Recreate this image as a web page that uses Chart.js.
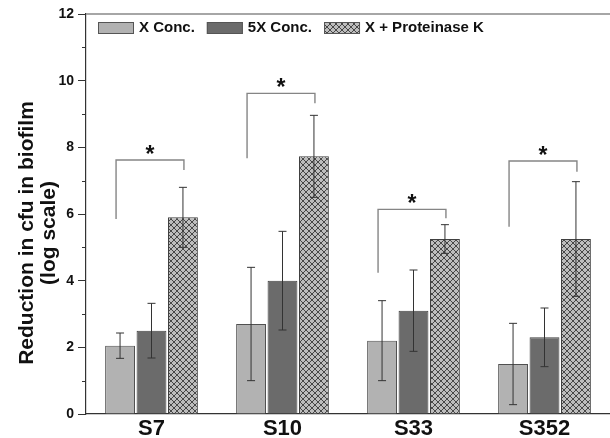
<!DOCTYPE html>
<html lang="en">
<head>
<meta charset="UTF-8">
<title>Reduction in cfu in biofilm</title>
<script src="https://cdn.jsdelivr.net/npm/chart.js"></script>
<style>
  body { margin: 0; background: #fff; }
</style>
</head>
<body>
<canvas id="chart" width="610" height="438"></canvas>
<script>
// data
const strains = ['S7', 'S10', 'S33', 'S352'];
const seriesNames = ['X Conc.', '5X Conc.', 'X + Proteinase K'];
const xConc = [2.05, 2.7, 2.2, 1.5];
const xConcErr = [0.38, 1.7, 1.2, 1.22];
const fiveXConc = [2.5, 4.0, 3.1, 2.3];
const fiveXConcErr = [0.82, 1.48, 1.22, 0.88];
const proteinaseK = [5.9, 7.73, 5.25, 5.25];
const proteinaseKErr = [0.9, 1.23, 0.43, 1.72];
const yTicks = [0, 2, 4, 6, 8, 10, 12];
// significance brackets (X Conc. vs X + Proteinase K)
const bracketTop = [7.62, 9.62, 6.14, 7.59];
const bracketLeftEnd = [5.85, 7.67, 4.24, 5.62];
const bracketRightEnd = [7.32, 9.32, 5.87, 7.27];

const FONT = 'Arial, "Liberation Sans", sans-serif';

// cross-hatch fill for the proteinase K bars
function hatch() {
    let c = document.createElement('canvas');
    c.width = 6; c.height = 6;
    let g = c.getContext('2d');
    g.fillStyle = '#bdbdbd';
    g.fillRect(0, 0, 6, 6);
    g.strokeStyle = '#474747';
    g.lineWidth = 1;
    g.beginPath();
    g.moveTo(0, 0); g.lineTo(6, 6);
    g.moveTo(6, 0); g.lineTo(0, 6);
    g.stroke();
    return g.createPattern(c, 'repeat');
}

const errors = [xConcErr, fiveXConcErr, proteinaseKErr];

const extras = {
    id: 'extras',
    afterDatasetsDraw(chart) {
        let ctx = chart.ctx;
        let y = chart.scales.y;
        let area = chart.chartArea;
        ctx.save();

        // error bars
        ctx.strokeStyle = '#333';
        ctx.lineWidth = 1;
        chart.data.datasets.forEach((ds, d) => {
            let meta = chart.getDatasetMeta(d);
            meta.data.forEach((bar, i) => {
                let hi = y.getPixelForValue(ds.data[i] + errors[d][i]);
                let lo = y.getPixelForValue(ds.data[i] - errors[d][i]);
                ctx.beginPath();
                ctx.moveTo(bar.x, hi); ctx.lineTo(bar.x, lo);
                ctx.moveTo(bar.x - 4, hi); ctx.lineTo(bar.x + 4, hi);
                ctx.moveTo(bar.x - 4, lo); ctx.lineTo(bar.x + 4, lo);
                ctx.stroke();
            });
        });

        // brackets + stars
        let first = chart.getDatasetMeta(0).data;
        let last = chart.getDatasetMeta(2).data;
        strains.forEach((s, i) => {
            let x1 = first[i].x - 4;
            let x2 = last[i].x + 1;
            let top = y.getPixelForValue(bracketTop[i]);
            ctx.strokeStyle = '#858585';
            ctx.lineWidth = 1.4;
            ctx.beginPath();
            ctx.moveTo(x1, y.getPixelForValue(bracketLeftEnd[i]));
            ctx.lineTo(x1, top);
            ctx.lineTo(x2, top);
            ctx.lineTo(x2, y.getPixelForValue(bracketRightEnd[i]));
            ctx.stroke();
            ctx.fillStyle = '#111';
            ctx.font = 'bold 23px ' + FONT;
            ctx.textAlign = 'center';
            ctx.textBaseline = 'alphabetic';
            ctx.fillText('*', (x1 + x2) / 2, top + 2);
        });

        // minor ticks on the y axis
        ctx.strokeStyle = '#333';
        ctx.lineWidth = 1;
        for (let v = 1; v < 12; v += 2) {
            let py = Math.round(y.getPixelForValue(v)) + 0.5;
            ctx.beginPath();
            ctx.moveTo(area.left - 4, py); ctx.lineTo(area.left, py);
            ctx.stroke();
        }

        // top frame line
        ctx.strokeStyle = '#888';
        ctx.lineWidth = 1.5;
        ctx.beginPath();
        ctx.moveTo(area.left, area.top); ctx.lineTo(area.right, area.top);
        ctx.stroke();

        // legend inside the plot
        ctx.font = 'bold 15px ' + FONT;
        ctx.textAlign = 'left';
        ctx.textBaseline = 'middle';
        let lx = area.left + 12;
        let ly = area.top + 14;
        chart.data.datasets.forEach(ds => {
            ctx.fillStyle = ds.backgroundColor;
            ctx.fillRect(lx, ly - 6, 36, 12);
            ctx.strokeStyle = '#555';
            ctx.lineWidth = 1;
            ctx.strokeRect(lx + 0.5, ly - 5.5, 35, 11);
            ctx.fillStyle = '#111';
            ctx.fillText(ds.label, lx + 41, ly);
            lx += 41 + ctx.measureText(ds.label).width + 12;
        });

        // y axis title, two lines
        ctx.save();
        ctx.translate(27, (area.top + area.bottom) / 2 + 19);
        ctx.rotate(-Math.PI / 2);
        ctx.font = 'bold 21px ' + FONT;
        ctx.textAlign = 'center';
        ctx.textBaseline = 'middle';
        ctx.fillStyle = '#111';
        ctx.fillText('Reduction in cfu in biofilm', 0, 0);
        ctx.fillText('(log scale)', 0, 22);
        ctx.restore();

        ctx.restore();
    }
};

const pattern = hatch();

new Chart(document.getElementById('chart'), {
    type: 'bar',
    data: {
        labels: strains,
        datasets: [
            { label: seriesNames[0], data: xConc, backgroundColor: '#b2b2b2', borderColor: '#505050', borderWidth: 1 },
            { label: seriesNames[1], data: fiveXConc, backgroundColor: '#6b6b6b', borderColor: '#404040', borderWidth: 1 },
            { label: seriesNames[2], data: proteinaseK, backgroundColor: pattern, borderColor: '#404040', borderWidth: 1 }
        ]
    },
    options: {
        responsive: false,
        animation: false,
        layout: { padding: { top: 14, right: 0, left: 0, bottom: 0 } },
        categoryPercentage: 0.72,
        barPercentage: 0.95,
        plugins: {
            legend: { display: false },
            tooltip: { enabled: false }
        },
        scales: {
            x: {
                grid: { display: false, drawTicks: false },
                border: { display: true, color: '#333', width: 1.2 },
                ticks: { font: { family: FONT, size: 22, weight: 'bold' }, color: '#111', padding: 2 },
                afterFit: s => { s.height = 24; }
            },
            y: {
                min: 0,
                max: 12,
                afterBuildTicks: s => { s.ticks = yTicks.map(v => ({ value: v })); },
                grid: { drawOnChartArea: false, tickLength: 8, tickColor: '#333' },
                border: { display: true, color: '#333', width: 1.2 },
                ticks: { font: { family: FONT, size: 14, weight: 'bold' }, color: '#111', padding: 4 },
                afterFit: s => { s.width = 86; }
            }
        }
    },
    plugins: [extras]
});
</script>
</body>
</html>
